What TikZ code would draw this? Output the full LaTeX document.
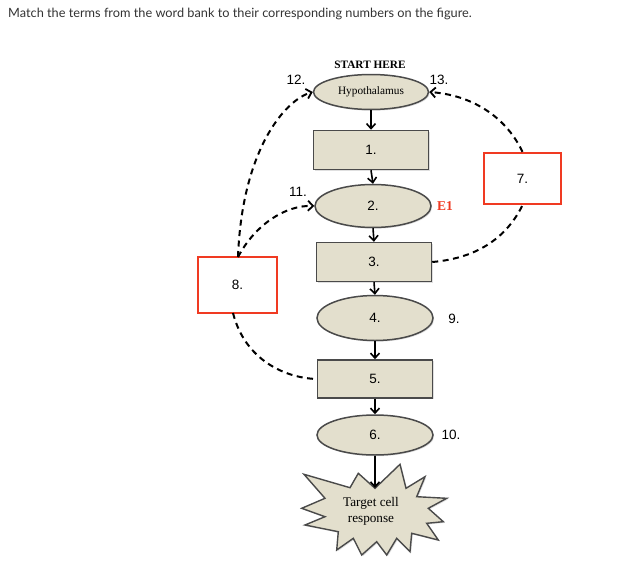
\documentclass[tikz,border=0pt]{standalone}
\usepackage{fontspec}
\setmainfont{Liberation Serif}
\setsansfont{Liberation Sans}
\newfontfamily\titlefont{Lato}
\usetikzlibrary{arrows.meta,shadows,shapes.geometric}
\definecolor{boxfill}{HTML}{E3DFCD}
\definecolor{boxline}{HTML}{4A4A4A}
\definecolor{redline}{HTML}{F03A22}
\definecolor{titlegray}{HTML}{333333}
\begin{document}
\begin{tikzpicture}[x=1pt,y=-1pt,
  shade/.style={drop shadow={opacity=0.25,shadow xshift=1.2pt,shadow yshift=-1.2pt}},
  box/.style={draw=boxline, fill=boxfill, line width=1.5pt, minimum width=115pt, minimum height=39pt, inner sep=0pt, font=\sffamily\fontsize{13.5}{15}\selectfont, shade},
  oval/.style={ellipse, draw=boxline, fill=boxfill, line width=1.5pt, minimum width=116pt, minimum height=43pt, inner sep=0pt, font=\sffamily\fontsize{13.5}{15}\selectfont, shade},
  redbox/.style={draw=redline, fill=white, line width=2.3pt, inner sep=0pt, font=\sffamily\fontsize{13.5}{15}\selectfont, shade},
  lbl/.style={font=\sffamily\fontsize{13.5}{15}\selectfont, inner sep=0pt},
  flow/.style={-{Straight Barb[length=5pt,width=9pt,line width=1.6pt]}, line width=1.6pt},
  dashline/.style={line width=2pt, dash pattern=on 6pt off 4.5pt},
  dasharrow/.style={dashline, -{Straight Barb[length=5pt,width=10pt,line width=1.8pt]}},
]
\useasboundingbox (0,0) rectangle (625,565);

\node[anchor=west, inner sep=0pt, text=titlegray, font=\titlefont\fontsize{12.75}{14}\selectfont] (title) at (8,14)
  {Match the terms from the word bank to their corresponding numbers on the figure.};

\node[font=\bfseries\fontsize{11.3}{13}\selectfont, inner sep=0pt] (start) at (370,65) {START HERE};

\node[oval, minimum width=115pt, minimum height=35pt, font=\fontsize{11.3}{12}\selectfont] (hyp) at (371,92) {Hypothalamus};
\node[box] (b1) at (371,150) {1.};
\node[oval] (e2) at (373,206) {2.};
\node[box] (b3) at (374,262) {3.};
\node[oval, minimum height=45pt] (e4) at (375,318) {4.};
\node[box, minimum height=38pt] (b5) at (375,379) {5.};
\node[oval, minimum height=40pt] (e6) at (375,435) {6.};

\node[redbox, minimum width=77pt, minimum height=51pt] (r7) at (522.5,178.5) {7.};
\node[redbox, minimum width=79pt, minimum height=56pt] (r8) at (237.5,285) {8.};

% starburst
\draw[draw=boxline, fill=boxfill, line width=1.4pt, line join=miter, shade]
  (304,474.3) -- (350,487.7) -- (358.3,473.3) -- (375,488.3) -- (400,464.3) -- (406,488.3)
  -- (425,476.7) -- (416.7,496.7) -- (446.7,498.3) -- (428.3,508.3) -- (443.3,521.7)
  -- (426.7,523.3) -- (438.3,540) -- (411.7,533.3) -- (410,551.7) -- (396.7,538.3)
  -- (386.7,555) -- (376.7,541.7) -- (361.7,555) -- (353.3,538.3) -- (336.7,550)
  -- (338.3,531.7) -- (305,525) -- (325,516.7) -- (301.7,508.3) -- (325,498.3) -- cycle;
\coordinate (notch) at (375,488);
\node[align=center, font=\fontsize{13.2}{16}\selectfont, inner sep=0pt] (tcr) at (371,511) {Target cell\\response};

% labels
\node[lbl] (l12) at (296,80) {12.};
\node[lbl] (l13) at (439,80) {13.};
\node[lbl] (l11) at (298,192) {11.};
\node[lbl] (l9) at (454,319) {9.};
\node[lbl] (l10) at (451,435) {10.};
\node[font=\bfseries\fontsize{13.5}{15}\selectfont, text=redline, inner sep=0pt] (E1) at (445,206) {E1};

% vertical flow
\draw[flow] (hyp.south) -- (b1.north);
\draw[flow] (b1.south) -- (e2.north);
\draw[flow] (e2.south) -- (b3.north);
\draw[flow] (b3.south) -- (e4.north);
\draw[flow] (e4.south) -- (b5.north);
\draw[flow] (b5.south) -- (e6.north);
\draw[flow] (e6.south) -- (notch);

% dashed feedback
\coordinate (r8top) at (238,257);
\draw[dasharrow] (r8top) .. controls (242,150) and (285,100) .. (hyp.west);
\draw[dasharrow] (r8top) .. controls (255,225) and (285,205) .. (e2.west);
\coordinate (r8bot) at (233,313);
\draw[dashline] (r8bot) .. controls (245,360) and (285,378) .. (b5.west);
\draw[dashline] (b3.east) .. controls (480,258) and (508,235) .. (r7.south);
\draw[dasharrow] (r7.north) .. controls (505,115) and (470,95) .. (hyp.east);
\end{tikzpicture}
\end{document}
